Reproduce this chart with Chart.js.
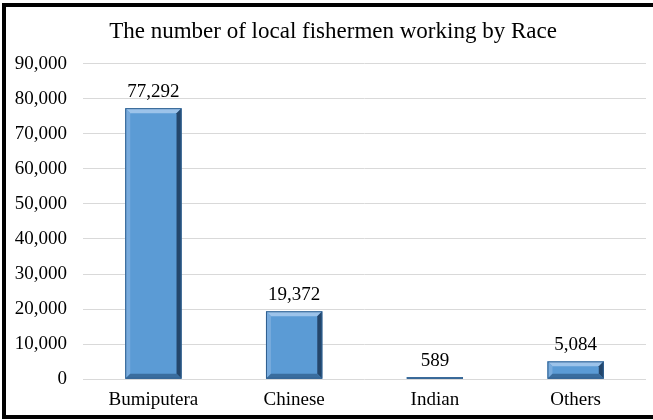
<!DOCTYPE html>
<html>
<head>
<meta charset="utf-8">
<script src="https://cdn.jsdelivr.net/npm/chart.js@4/dist/chart.umd.min.js"></script>
<style>
  html, body { margin: 0; padding: 0; background: #fff; overflow: hidden; }
  #frame {
    position: absolute; left: 2px; top: 3px;
    width: 660px; height: 408px;
    border: 4px solid #000; border-right: none;
  }
  #wrap { position: absolute; left: 0; top: 0; width: 653px; height: 420px; }
</style>
</head>
<body>
<div id="frame"></div>
<div id="wrap"><canvas id="bar1"></canvas></div>
<script>
// chart data
var races = ['Bumiputera', 'Chinese', 'Indian', 'Others'];
var fishermen = [77292, 19372, 589, 5084];
var yTicks = [0, 10000, 20000, 30000, 40000, 50000, 60000, 70000, 80000, 90000];

var serif = '"Liberation Serif", "Times New Roman", serif';

// bevel look for the bars (like the Excel chart)
var bevelPlugin = {
    id: 'bevel',
    afterDatasetsDraw: function (chart) {
        var ctx = chart.ctx;
        var meta = chart.getDatasetMeta(0);
        meta.data.forEach(function (bar) {
            var l = bar.x - bar.width / 2, r = bar.x + bar.width / 2;
            var t = bar.y, b = bar.base;
            var h = b - t;
            var s = Math.min(5, h / 2, bar.width / 2);
            ctx.save();
            // top
            ctx.fillStyle = '#9cc3ea';
            ctx.beginPath();
            ctx.moveTo(l, t); ctx.lineTo(r, t); ctx.lineTo(r - s, t + s); ctx.lineTo(l + s, t + s);
            ctx.closePath(); ctx.fill();
            // left
            ctx.fillStyle = '#78abdd';
            ctx.beginPath();
            ctx.moveTo(l, t); ctx.lineTo(l + s, t + s); ctx.lineTo(l + s, b - s); ctx.lineTo(l, b);
            ctx.closePath(); ctx.fill();
            // right
            ctx.fillStyle = '#24466b';
            ctx.beginPath();
            ctx.moveTo(r, t); ctx.lineTo(r, b); ctx.lineTo(r - s, b - s); ctx.lineTo(r - s, t + s);
            ctx.closePath(); ctx.fill();
            // bottom
            ctx.fillStyle = '#3a6d9e';
            ctx.beginPath();
            ctx.moveTo(l, b); ctx.lineTo(l + s, b - s); ctx.lineTo(r - s, b - s); ctx.lineTo(r, b);
            ctx.closePath(); ctx.fill();
            ctx.strokeStyle = '#2f5f8f';
            ctx.lineWidth = 1;
            ctx.strokeRect(l + 0.5, t + 0.5, bar.width - 1, Math.max(h - 1, 0));
            ctx.restore();
        });
    }
};

// value labels above the bars
var valueLabels = {
    id: 'valueLabels',
    afterDatasetsDraw: function (chart) {
        var ctx = chart.ctx;
        var meta = chart.getDatasetMeta(0);
        ctx.save();
        ctx.font = '19px ' + serif;
        ctx.fillStyle = '#000';
        ctx.textAlign = 'center';
        ctx.textBaseline = 'bottom';
        meta.data.forEach(function (bar, i) {
            ctx.fillText(fishermen[i].toLocaleString('en-US'), bar.x, bar.y - 7);
        });
        ctx.restore();
    }
};

// title sits a bit right of the canvas centre in the original
var titleShift = {
    id: 'titleShift',
    afterLayout: function (chart) {
        if (chart.titleBlock) chart.titleBlock.left += 20;
    }
};

new Chart(document.getElementById('bar1'), {
    type: 'bar',
    data: {
        labels: races,
        datasets: [{
            data: fishermen,
            backgroundColor: '#5b9bd5',
            borderWidth: 0,
            barPercentage: 0.4,
            categoryPercentage: 1
        }]
    },
    options: {
        responsive: true,
        maintainAspectRatio: false,
        animation: false,
        layout: { padding: { left: 0, right: 7, top: 12, bottom: 0 } },
        plugins: {
            legend: { display: false },
            tooltip: { enabled: false },
            title: {
                display: true,
                text: 'The number of local fishermen working by Race',
                color: '#000',
                font: { family: serif, size: 23, weight: 'normal' },
                padding: { top: 6, bottom: 18 }
            }
        },
        scales: {
            x: {
                grid: { display: false, drawTicks: false },
                border: { display: false },
                ticks: { color: '#000', font: { family: serif, size: 19 }, padding: 9 }
            },
            y: {
                min: 0,
                max: 90000,
                afterBuildTicks: function (axis) {
                    axis.ticks = yTicks.map(function (v) { return { value: v }; });
                },
                afterFit: function (axis) { axis.width = 83; },
                grid: { color: '#d9d9d9', drawTicks: false },
                border: { display: false },
                ticks: {
                    color: '#000',
                    font: { family: serif, size: 19 },
                    padding: 16,
                    callback: function (v) { return v.toLocaleString('en-US'); }
                }
            }
        }
    },
    plugins: [bevelPlugin, valueLabels, titleShift]
});
</script>
</body>
</html>
